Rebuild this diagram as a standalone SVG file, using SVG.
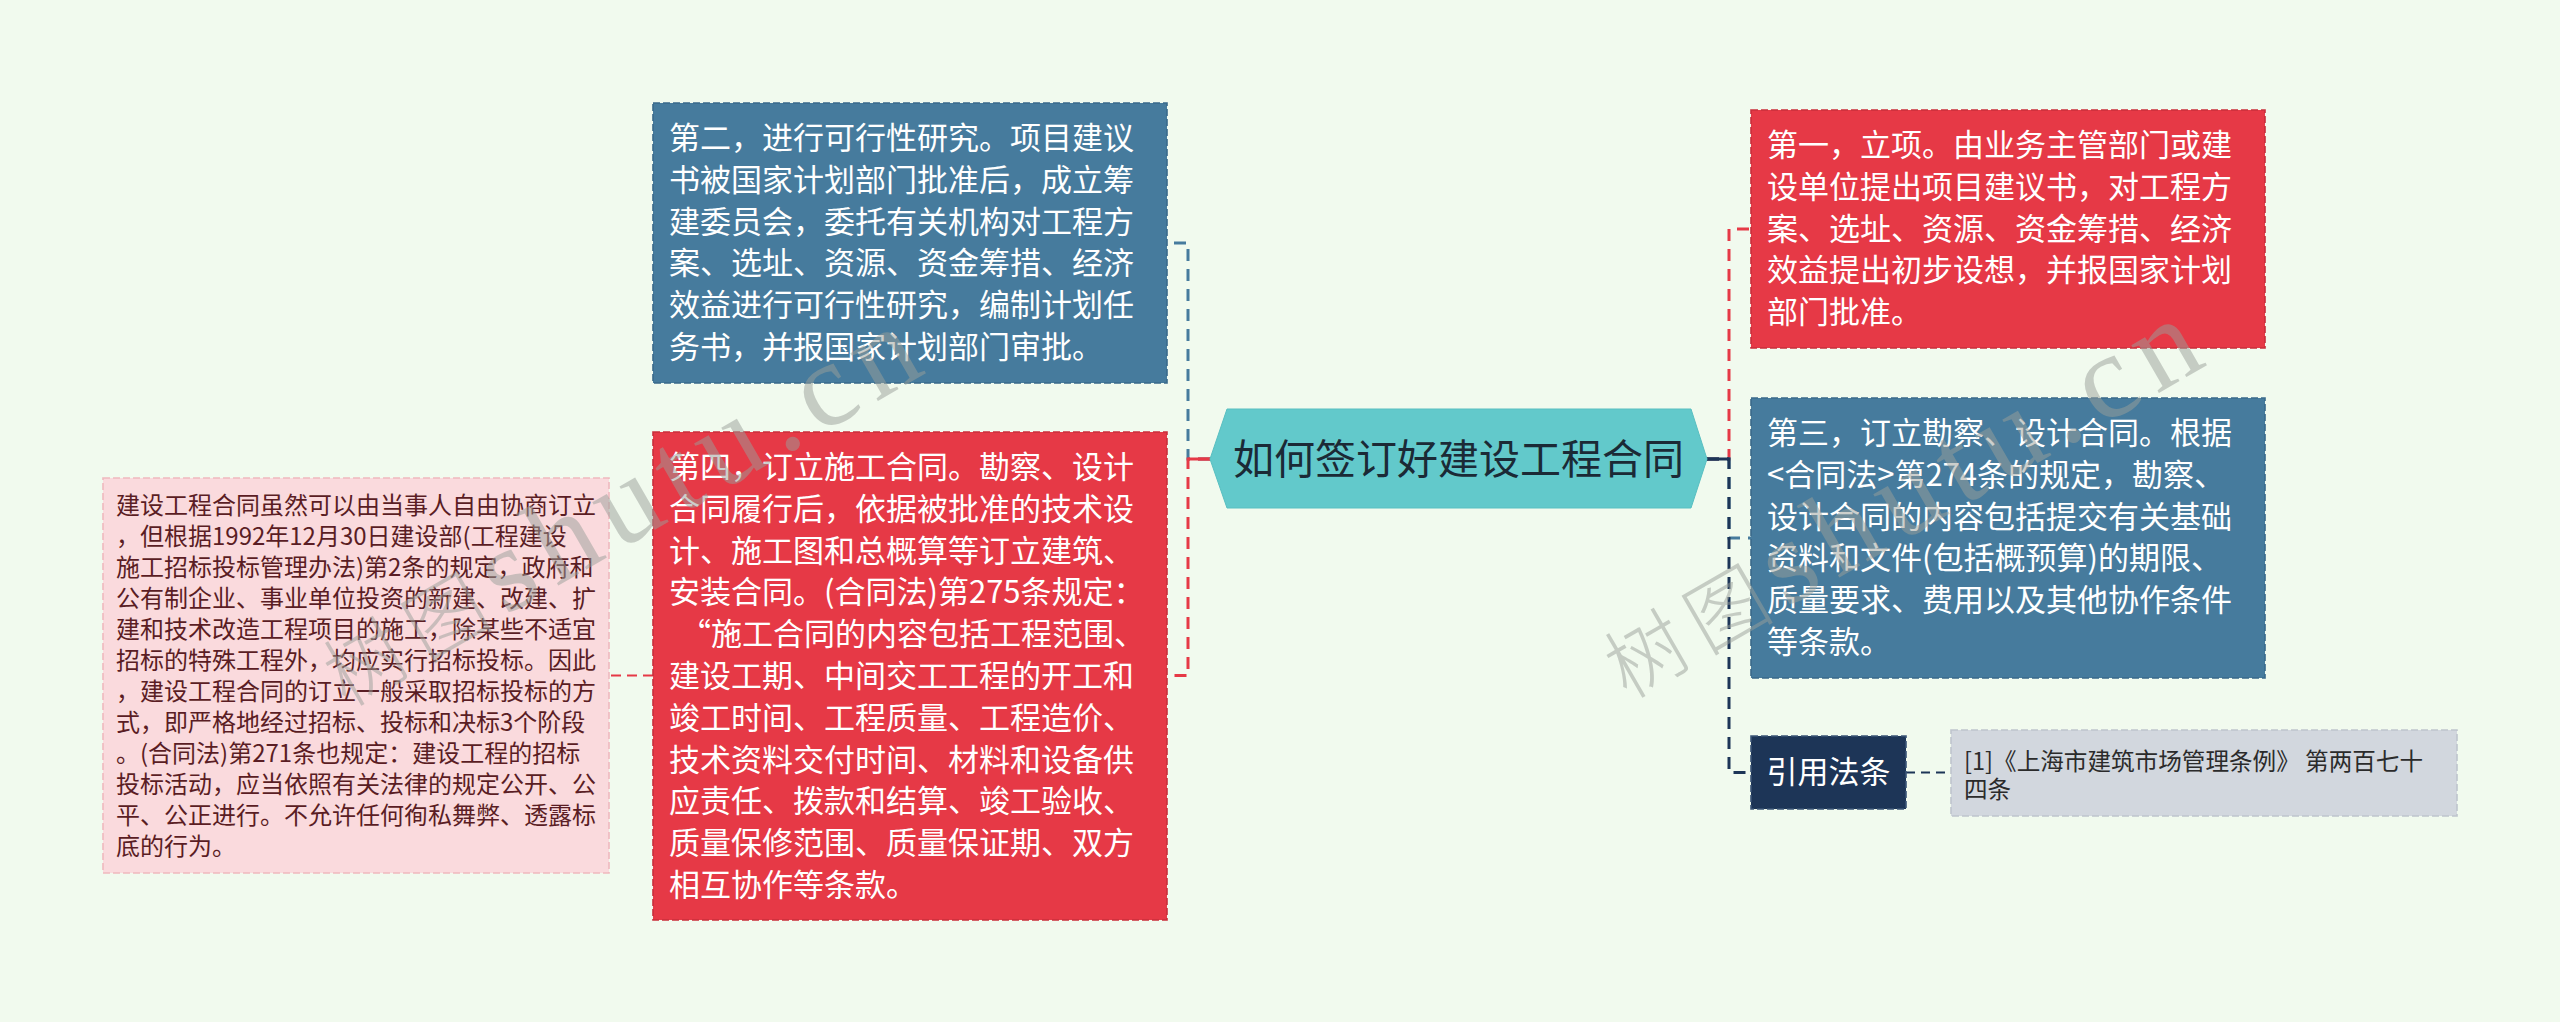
<svg xmlns="http://www.w3.org/2000/svg" width="2560" height="1022" viewBox="0 0 2560 1022">
<style>
.bg{fill:#f1faee}
.t{font-family:"Noto Sans CJK SC","Noto Sans",sans-serif}
.big{font-size:31px}
.w{fill:#ffffff}
.blue{fill:#467b9d;stroke:#3a6a8b;stroke-width:1.6;stroke-dasharray:7 3}
.red{fill:#e63946;stroke:#c92f3b;stroke-width:1.6;stroke-dasharray:7 3}
.pink{fill:#fadadd;stroke:#efb9bf;stroke-width:1.6;stroke-dasharray:7 3}
.navy{fill:#1d3557;stroke:#3b5577;stroke-width:1.6;stroke-dasharray:7 3}
.gray{fill:#d2d7de;stroke:#bfc5cd;stroke-width:1.6;stroke-dasharray:7 3}
.c{fill:none;stroke-width:3;stroke-dasharray:12 8}
.cr{stroke:#e63946}
.cb{stroke:#467b9d}
.cn{stroke:#1d3557}
.wm{fill:#9aa09a;opacity:0.5}
</style>
<rect class="bg" x="0" y="0" width="2560" height="1022"/>

<g id="connectors">
  <path class="c cb" d="M1210,459 H1188 V243 H1167"/>
  <path class="c cr" d="M1210,459 H1188 V675.5 H1167"/>
  <line x1="1188" y1="459" x2="1210" y2="459" stroke="#e63946" stroke-width="3"/>
  <path class="c cr" d="M653,675.5 H609" style="stroke-dasharray:10 6;stroke-width:2"/>
  <path class="c cr" d="M1707,459 H1729 V229 H1751"/>
  <path class="c cb" d="M1707,459 H1729 V538 H1751"/>
  <path class="c cn" d="M1707,459 H1729 V772.5 H1751"/>
  <line x1="1707" y1="459" x2="1729" y2="459" stroke="#1d3557" stroke-width="3"/>
  <path class="c cn" d="M1906,772.5 H1951" style="stroke-dasharray:9 6;stroke-width:2"/>
</g>

<g id="root">
  <polygon points="1210,459 1227,409 1691,409 1707,459 1691,508 1227,508" fill="#62c9cb" stroke="#58bfc1" stroke-width="1"/>
  <text class="t" x="1458.5" y="474" font-size="41" text-anchor="middle" fill="#1b2a36">如何签订好建设工程合同</text>
</g>

<g id="node-2">
  <rect class="blue" x="653" y="103" width="514" height="280"/>
  <text class="t big w">
    <tspan x="669" y="149">第二，进行可行性研究。项目建议</tspan>
    <tspan x="669" y="190.8">书被国家计划部门批准后，成立筹</tspan>
    <tspan x="669" y="232.6">建委员会，委托有关机构对工程方</tspan>
    <tspan x="669" y="274.4">案、选址、资源、资金筹措、经济</tspan>
    <tspan x="669" y="316.2">效益进行可行性研究，编制计划任</tspan>
    <tspan x="669" y="358">务书，并报国家计划部门审批。</tspan>
  </text>
</g>

<g id="node-4">
  <rect class="red" x="653" y="432" width="514" height="488"/>
  <text class="t big w">
    <tspan x="669" y="478">第四，订立施工合同。勘察、设计</tspan>
    <tspan x="669" y="519.8">合同履行后，依据被批准的技术设</tspan>
    <tspan x="669" y="561.6">计、施工图和总概算等订立建筑、</tspan>
    <tspan x="669" y="603.4">安装合同。(合同法)第275条规定：</tspan>
    <tspan x="680" y="645.2">“施工合同的内容包括工程范围、</tspan>
    <tspan x="669" y="687">建设工期、中间交工工程的开工和</tspan>
    <tspan x="669" y="728.8">竣工时间、工程质量、工程造价、</tspan>
    <tspan x="669" y="770.6">技术资料交付时间、材料和设备供</tspan>
    <tspan x="669" y="812.4">应责任、拨款和结算、竣工验收、</tspan>
    <tspan x="669" y="854.2">质量保修范围、质量保证期、双方</tspan>
    <tspan x="669" y="896">相互协作等条款。</tspan>
  </text>
</g>

<g id="node-4-note">
  <rect class="pink" x="103" y="478" width="506" height="395"/>
  <text class="t" font-size="24" fill="#5a1d24">
    <tspan x="116" y="514">建设工程合同虽然可以由当事人自由协商订立</tspan>
    <tspan x="116" y="545">，但根据1992年12月30日建设部(工程建设</tspan>
    <tspan x="116" y="576">施工招标投标管理办法)第2条的规定，政府和</tspan>
    <tspan x="116" y="607">公有制企业、事业单位投资的新建、改建、扩</tspan>
    <tspan x="116" y="638">建和技术改造工程项目的施工，除某些不适宜</tspan>
    <tspan x="116" y="669">招标的特殊工程外，均应实行招标投标。因此</tspan>
    <tspan x="116" y="700">，建设工程合同的订立一般采取招标投标的方</tspan>
    <tspan x="116" y="731">式，即严格地经过招标、投标和决标3个阶段</tspan>
    <tspan x="116" y="762">。(合同法)第271条也规定：建设工程的招标</tspan>
    <tspan x="116" y="793">投标活动，应当依照有关法律的规定公开、公</tspan>
    <tspan x="116" y="824">平、公正进行。不允许任何徇私舞弊、透露标</tspan>
    <tspan x="116" y="855">底的行为。</tspan>
  </text>
</g>

<g id="node-1">
  <rect class="red" x="1751" y="110" width="514" height="238"/>
  <text class="t big w">
    <tspan x="1767" y="156">第一，立项。由业务主管部门或建</tspan>
    <tspan x="1767" y="197.8">设单位提出项目建议书，对工程方</tspan>
    <tspan x="1767" y="239.6">案、选址、资源、资金筹措、经济</tspan>
    <tspan x="1767" y="281.4">效益提出初步设想，并报国家计划</tspan>
    <tspan x="1767" y="323.2">部门批准。</tspan>
  </text>
</g>

<g id="node-3">
  <rect class="blue" x="1751" y="398" width="514" height="280"/>
  <text class="t big w">
    <tspan x="1767" y="444">第三，订立勘察、设计合同。根据</tspan>
    <tspan x="1767" y="485.8">&lt;合同法&gt;第274条的规定，勘察、</tspan>
    <tspan x="1767" y="527.6">设计合同的内容包括提交有关基础</tspan>
    <tspan x="1767" y="569.4">资料和文件(包括概预算)的期限、</tspan>
    <tspan x="1767" y="611.2">质量要求、费用以及其他协作条件</tspan>
    <tspan x="1767" y="653">等条款。</tspan>
  </text>
</g>

<g id="node-law">
  <rect class="navy" x="1751" y="736" width="155" height="73"/>
  <text class="t big w" x="1828.5" y="783" text-anchor="middle">引用法条</text>
</g>

<g id="node-law-ref">
  <rect class="gray" x="1951" y="730" width="506" height="86"/>
  <text class="t" font-size="23.6" fill="#2b2b2b">
    <tspan x="1964" y="769.5">[1]《上海市建筑市场管理条例》 第两百七十</tspan>
    <tspan x="1964" y="798">四条</tspan>
  </text>
</g>

<g id="watermark">
  <text class="wm" transform="translate(346,708) rotate(-30)" font-family="Liberation Serif,serif" font-size="120" letter-spacing="12"><tspan font-family="Noto Sans CJK SC,sans-serif" font-size="80" font-weight="300">树图</tspan>shutu.cn</text>
  <text class="wm" transform="translate(1627,700) rotate(-30)" font-family="Liberation Serif,serif" font-size="120" letter-spacing="12"><tspan font-family="Noto Sans CJK SC,sans-serif" font-size="80" font-weight="300">树图</tspan>shutu.cn</text>
</g>
</svg>
